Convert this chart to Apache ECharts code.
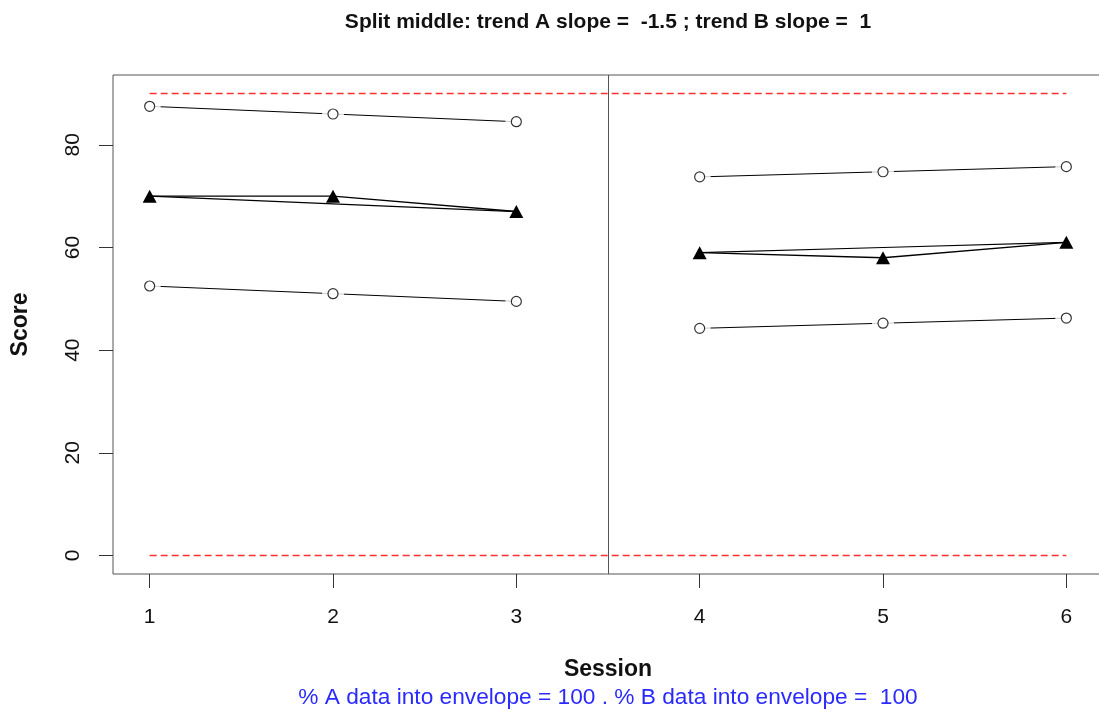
<!DOCTYPE html>
<html>
<head>
<meta charset="utf-8">
<script src="https://cdn.jsdelivr.net/npm/echarts@6/dist/echarts.min.js"></script>
<style>
  html, body { margin: 0; padding: 0; background: #fff; }
  #chart { width: 1099px; height: 713px; }
</style>
</head>
<body>
<div id="chart"></div>
<script>
// Sessions of each phase
const sessionsA = [1, 2, 3];
const sessionsB = [4, 5, 6];
// Observed scores
const scoresA = [70, 70, 67];
const scoresB = [59, 58, 61];
// Split-middle trend lines
const trendA = [70, 68.5, 67];
const trendB = [59, 60, 61];
// Stability envelope around each trend
const upperA = [87.5, 86, 84.5];
const lowerA = [52.5, 51, 49.5];
const upperB = [73.75, 74.75, 75.75];
const lowerB = [44.25, 45.25, 46.25];
// Reference limits and phase change
const limitValues = [90, 0];
const limitSpan = [1, 6];
const phaseSplit = 3.5;
// Axis ticks
const xTicks = [1, 2, 3, 4, 5, 6];
const yTicks = [0, 20, 40, 60, 80];
// Texts
const titleText = 'Split middle: trend A slope =  -1.5 ; trend B slope =  1';
const footerText = '% A data into envelope = 100 . % B data into envelope =  100';
const xName = 'Session';
const yName = 'Score';

const FONT = 'Liberation Sans, Arial, Helvetica, sans-serif';
const zip = (xs, ys) => xs.map((x, i) => [x, ys[i]]);

const GRID = { left: 113, top: 75, width: 990, height: 499 };
const plotCenterX = GRID.left + GRID.width / 2;

const envelopeSets = [
  zip(sessionsA, upperA), zip(sessionsA, lowerA),
  zip(sessionsB, upperB), zip(sessionsB, lowerB)
];

const series = [];

// envelope lines (behind the open circles)
envelopeSets.forEach(d => series.push({
  type: 'line', data: d, symbol: 'none', z: 2, silent: true,
  lineStyle: { color: '#000', width: 1 }
}));
// white discs leave a small gap in the line around each open circle
envelopeSets.forEach(d => series.push({
  type: 'scatter', data: d, symbol: 'circle', symbolSize: 22, z: 3, silent: true,
  itemStyle: { color: '#fff' }
}));
envelopeSets.forEach(d => series.push({
  type: 'scatter', data: d, symbol: 'circle', symbolSize: 10, z: 4, silent: true,
  itemStyle: { color: '#fff', borderColor: '#000', borderWidth: 1.2 }
}));

// trend lines
[zip(sessionsA, trendA), zip(sessionsB, trendB)].forEach(d => series.push({
  type: 'line', data: d, symbol: 'none', z: 4, silent: true,
  lineStyle: { color: '#000', width: 1.2 }
}));

// observed data with filled triangles
[zip(sessionsA, scoresA), zip(sessionsB, scoresB)].forEach(d => series.push({
  type: 'line', data: d, symbol: 'triangle', symbolSize: [14, 13], z: 5, silent: true,
  itemStyle: { color: '#000' },
  lineStyle: { color: '#000', width: 1.4 }
}));

// dashed reference limits
limitValues.forEach(v => series.push({
  type: 'line', data: limitSpan.map(x => [x, v]), symbol: 'none', z: 6, silent: true,
  color: '#ff3030',
  lineStyle: { color: '#ff3030', width: 1.4, type: [7, 4], opacity: 1 }
}));

// phase change line
series.push({
  type: 'line', data: [], z: 6, silent: true,
  markLine: {
    silent: true, symbol: 'none', animation: false,
    label: { show: false },
    lineStyle: { color: '#555', width: 1, type: 'solid' },
    data: [{ xAxis: phaseSplit }]
  }
});

const chart = echarts.init(document.getElementById('chart'), null, { renderer: 'canvas' });
chart.setOption({
  animation: false,
  backgroundColor: '#fff',
  title: [
    {
      text: titleText, left: plotCenterX - 5, top: 7, textAlign: 'center',
      textStyle: { fontFamily: FONT, fontSize: 21, fontWeight: 'bold', color: '#111' }
    },
    {
      text: footerText, left: plotCenterX - 5, top: 681, textAlign: 'center',
      textStyle: { fontFamily: FONT, fontSize: 22.7, fontWeight: 'normal', color: '#2a2aff' }
    }
  ],
  grid: Object.assign({
    show: true, borderColor: '#555', borderWidth: 1, backgroundColor: 'transparent',
    outerBoundsMode: 'none', containLabel: false
  }, GRID),
  xAxis: {
    type: 'value', min: 0.8, max: 6.2,
    name: xName, nameLocation: 'middle', nameGap: 84.5,
    nameTextStyle: { fontFamily: FONT, fontSize: 23, fontWeight: 'bold', color: '#111' },
    axisLine: { show: false, onZero: false },
    axisTick: { show: true, length: 14, customValues: xTicks, lineStyle: { color: '#333', width: 1 } },
    axisLabel: { customValues: xTicks, margin: 33, fontFamily: FONT, fontSize: 21, color: '#111' },
    splitLine: { show: false }
  },
  yAxis: {
    type: 'value', min: -3.6, max: 93.6,
    name: yName, nameLocation: 'middle', nameGap: 80.5, nameRotate: 90,
    nameTextStyle: { fontFamily: FONT, fontSize: 23, fontWeight: 'bold', color: '#111' },
    axisLine: { show: false, onZero: false },
    axisTick: { show: true, length: 14, customValues: yTicks, lineStyle: { color: '#333', width: 1 } },
    axisLabel: { customValues: yTicks, rotate: 90, margin: 29, fontFamily: FONT, fontSize: 21, color: '#111' },
    splitLine: { show: false }
  },
  series: series
});
</script>
</body>
</html>
